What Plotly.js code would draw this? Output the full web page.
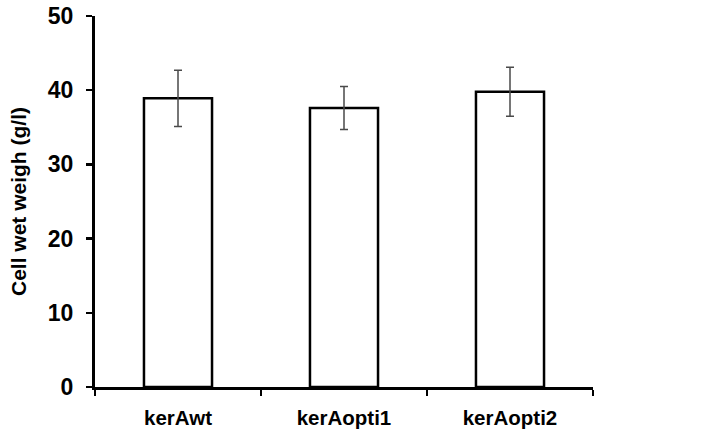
<!DOCTYPE html>
<html>
<head>
<meta charset="utf-8">
<script src="https://cdn.plot.ly/plotly-3.0.1.min.js"></script>
<style>html,body{margin:0;padding:0;background:#fff;}#chart{width:714px;height:436px;}</style>
</head>
<body>
<div id="chart"></div>
<script>
const categories = ["kerAwt", "kerAopti1", "kerAopti2"];
const meanValues = [38.9, 37.6, 39.8];
const errorValues = [3.8, 2.9, 3.3];
const yTickValues = [0, 10, 20, 30, 40, 50];

const trace = {
  type: "bar",
  x: categories,
  y: meanValues,
  width: 0.41,
  marker: { color: "#ffffff", line: { color: "#000000", width: 2.5 } },
  error_y: { type: "data", array: errorValues, visible: true, color: "#4a4a4a", thickness: 1.5, width: 4 },
  hoverinfo: "none"
};

const layout = {
  width: 714, height: 436,
  margin: { l: 95, r: 121, t: 16, b: 49 },
  paper_bgcolor: "#ffffff", plot_bgcolor: "#ffffff",
  showlegend: false,
  bargap: 0.59,
  font: { family: "Liberation Sans, Arial, sans-serif", color: "#000000" },
  xaxis: {
    type: "category",
    showline: true, linecolor: "#000000", linewidth: 3,
    ticks: "outside", tickson: "boundaries", ticklen: 6, tickwidth: 2.5, tickcolor: "#000000",
    ticklabelstandoff: 10,
    tickfont: { size: 20.5, family: "Liberation Sans, Arial, sans-serif", weight: "bold" },
    showgrid: false, zeroline: false,
    fixedrange: true
  },
  yaxis: {
    range: [0, 50],
    tickvals: yTickValues,
    ticktext: yTickValues.map(String),
    showline: true, linecolor: "#000000", linewidth: 3,
    ticks: "outside", ticklen: 6, tickwidth: 2.5, tickcolor: "#000000",
    ticklabelstandoff: 8,
    tickfont: { size: 23, family: "Liberation Sans, Arial, sans-serif", weight: "bold" },
    showgrid: false, zeroline: false,
    title: { text: "Cell wet weigh (g/l)", font: { size: 21, family: "Liberation Sans, Arial, sans-serif", weight: "bold" }, standoff: 16 },
    fixedrange: true
  }
};

Plotly.newPlot("chart", [trace], layout, { displayModeBar: false, staticPlot: true });
</script>
</body>
</html>
